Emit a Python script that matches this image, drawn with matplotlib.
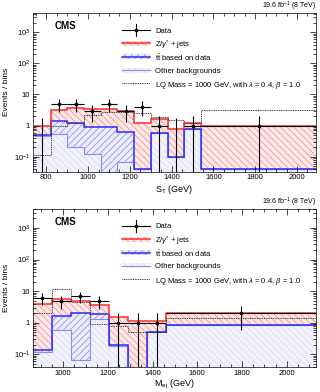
import numpy as np
import matplotlib
matplotlib.use("Agg")
import matplotlib.pyplot as plt
from matplotlib.patches import Rectangle
from matplotlib.ticker import FixedLocator, FixedFormatter, MultipleLocator, LogLocator, NullFormatter

plt.rcParams['font.family'] = ['Liberation Sans', 'DejaVu Sans']
plt.rcParams['mathtext.fontset'] = 'custom'
plt.rcParams['mathtext.rm'] = 'Liberation Sans'
plt.rcParams['mathtext.it'] = 'Liberation Sans:italic'
plt.rcParams['hatch.linewidth'] = 0.45

# --- S_T panel ---
st_edges = [740, 820, 900, 980, 1060, 1140, 1220, 1300, 1380, 1460, 1540, 2100]
st_other = [0.45, 0.55, 0.21, 0.12, 0.0, 0.07, 0.04, 0.6, 0.1, 0.8, 0.04]
st_ttbar = [0.05, 0.9, 1.04, 0.76, 0.9, 0.56, 0.0, 0.0, 0.0, 0.0, 0.0]
st_zjets = [0.5, 1.75, 2.55, 2.52, 2.4, 2.27, 1.16, 1.0, 0.65, 0.45, 0.96]
st_lq = [0.11, 1.0, 1.25, 2.2, 2.8, 2.8, 2.5, 1.9, 1.5, 1.2, 3.2]
st_data = [0, 5, 5, 3, 5, 3, 4, 1, 0, 1, 1]

# --- M_ej panel ---
mej_edges = [865, 950, 1035, 1120, 1205, 1290, 1375, 1460, 2130]
mej_other = [0.12, 0.6, 0.065, 1.3, 0.19, 0.0, 0.5, 0.85]
mej_ttbar = [0.02, 1.0, 2.03, 0.6, 0.01, 0.0, 0.0, 0.0]
mej_zjets = [3.66, 4.2, 2.7, 1.7, 1.35, 1.15, 0.65, 1.15]
mej_lq = [2.0, 12.0, 4.5, 0.9, 0.78, 0.5, 0.5, 1.45]
mej_data = [6, 5, 7, 5, 1, 1, 1, 2]

labels = ['Data', r'Z/$\gamma^{*}$ + jets', r'$\mathrm{t\bar{t}}$ based on data',
          'Other backgrounds', r'LQ Mass = 1000 GeV, with $\lambda$ = 0.4, $\beta$ = 1.0']

red, red_h, red_f = '#ff2a2a', '#f08080', '#fde8e8'
blue, blue_h, blue_f = '#2a2aff', '#7f7ff0', '#ebebfb'
lav, lav_h, lav_f = '#8c8cf2', '#d6d6f5', '#f3f3fd'
sig = '#333333'
base = 1e-4
hatch_z, hatch_tt, hatch_o = '\\\\\\\\\\', '/////', '\\\\\\\\\\'


def legend_box(ax):
    # ROOT-like legend drawn by hand so the rows are evenly spaced
    x0, x1, xt = 0.314, 0.413, 0.432
    ys = 0.89 - 0.0838 * np.arange(5)
    tr = ax.transAxes
    y = ys[0]
    ax.plot([x0, x1], [y, y], color='black', lw=0.8, transform=tr, clip_on=False)
    ax.plot([(x0 + x1) / 2] * 2, [y - 0.035, y + 0.035], color='black', lw=0.8, transform=tr)
    ax.plot([(x0 + x1) / 2], [y], 'o', ms=1.6, color='black', transform=tr)
    for y, fc, ec, h, lc, lw in [(ys[1], red_f, red_h, hatch_z, red, 1.1),
                                 (ys[2], blue_f, blue_h, hatch_tt, blue, 1.1),
                                 (ys[3], lav_f, lav_h, hatch_o, lav, 0.8)]:
        ax.add_patch(Rectangle((x0, y - 0.016), x1 - x0, 0.032, facecolor=fc, edgecolor=ec,
                               hatch=h, lw=0, transform=tr))
        ax.plot([x0, x1], [y, y], color=lc, lw=lw, transform=tr)
    ax.plot([x0, x1], [ys[4]] * 2, color=sig, lw=0.7, linestyle=(0, (1, 0.8)), transform=tr)
    for y, lab in zip(ys, labels):
        ax.text(xt, y, lab, transform=tr, fontsize=5.5, va='center_baseline')


def panel(ax, edges, other, ttbar, zjets, lq, data, xlim, ylim, xticks, xlabel):
    edges = np.array(edges, float)
    other = np.array(other)
    top_tt = other + np.array(ttbar)
    top_z = top_tt + np.array(zjets)

    # filled + hatched stacks
    ax.stairs(other, edges, baseline=base, fill=True, facecolor=lav_f, edgecolor=lav_h, hatch=hatch_o, lw=0)
    ax.stairs(top_tt, edges, baseline=other, fill=True, facecolor=blue_f, edgecolor=blue_h, hatch=hatch_tt, lw=0)
    ax.stairs(top_z, edges, baseline=top_tt, fill=True, facecolor=red_f, edgecolor=red_h, hatch=hatch_z, lw=0)
    # outlines
    ax.stairs(np.maximum(other, base), edges, baseline=None, color=lav, lw=0.8)
    ax.stairs(np.maximum(top_tt, base), edges, baseline=None, color=blue, lw=1.1)
    ax.stairs(top_z, edges, baseline=None, color=red, lw=1.1)
    ax.stairs(lq, edges, baseline=None, color=sig, lw=0.7, linestyle=(0, (1, 0.8)))

    # data, sqrt(N) errors (empty bins get an upper bar only)
    data = np.array(data, float)
    centers = (edges[:-1] + edges[1:]) / 2
    xerr = (edges[1:] - edges[:-1]) / 2
    err = np.sqrt(data)
    up = np.where(data == 0, 1.8, err)
    dn = np.where(data == 0, 0.0, np.where(data - err <= 0, data * 0.999999, err))
    ax.errorbar(centers, data, xerr=xerr, yerr=[dn, up], fmt='o', ms=1.6,
                color='black', elinewidth=0.8, capsize=0, zorder=5)

    ax.set_yscale('log')
    ax.set_xlim(*xlim)
    ax.set_ylim(*ylim)
    ax.yaxis.set_major_locator(FixedLocator([0.1, 1, 10, 100, 1000]))
    ax.yaxis.set_major_formatter(FixedFormatter(['$10^{-1}$', '1', '10', '$10^{2}$', '$10^{3}$']))
    ax.yaxis.set_minor_locator(LogLocator(base=10, subs=np.arange(2, 10)))
    ax.yaxis.set_minor_formatter(NullFormatter())
    ax.set_xticks(xticks)
    ax.xaxis.set_minor_locator(MultipleLocator(50))
    ax.tick_params(which='both', direction='in', top=True, right=True, labelsize=5.5, width=0.5, pad=2)
    ax.tick_params(which='major', length=4)
    ax.tick_params(which='minor', length=2)
    for s in ax.spines.values():
        s.set_linewidth(0.5)
    ax.set_xlabel(xlabel, fontsize=6.5, labelpad=1)
    ax.set_ylabel('Events / bins', fontsize=6, labelpad=3)

    ax.text(0.075, 0.915, 'CMS', transform=ax.transAxes, fontsize=7, weight='bold', va='center')
    ax.text(1.0, 1.0, r'19.6 fb$^{-1}$ (8 TeV)', transform=ax.transAxes, fontsize=5, ha='right', va='bottom')
    legend_box(ax)


fig = plt.figure(figsize=(3.2, 3.92), dpi=100)
ax1 = fig.add_axes([0.103, 0.562, 0.884, 0.406])
ax2 = fig.add_axes([0.103, 0.064, 0.884, 0.404])

panel(ax1, st_edges, st_other, st_ttbar, st_zjets, st_lq, st_data,
      (736, 2090), (0.033, 4300), [800, 1000, 1200, 1400, 1600, 1800, 2000], r'S$_{\mathrm{T}}$ (GeV)')
panel(ax2, mej_edges, mej_other, mej_ttbar, mej_zjets, mej_lq, mej_data,
      (865, 2130), (0.04, 4100), [1000, 1200, 1400, 1600, 1800, 2000], r'M$_{\mathrm{ej}}$ (GeV)')

fig.savefig('out.png', dpi=100)
